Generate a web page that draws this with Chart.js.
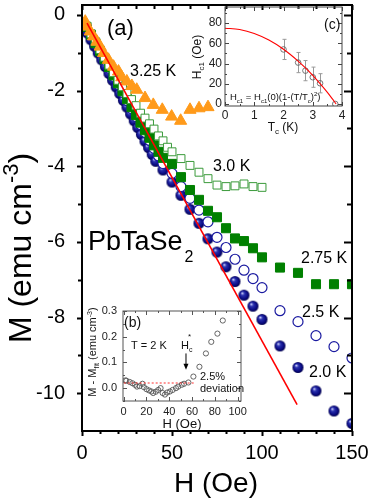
<!DOCTYPE html>
<html>
<head>
<meta charset="utf-8">
<script src="https://cdn.jsdelivr.net/npm/chart.js@4.4.0/dist/chart.umd.min.js"></script>
<style>
  html, body { margin: 0; padding: 0; background: #fff; }
  #wrap { position: relative; width: 374px; height: 503px; }
  #wrap canvas { position: absolute; left: 0; top: 0; }
</style>
</head>
<body>
<div id="wrap">
  <canvas id="mainChart" width="374" height="503"></canvas>
  <canvas id="insetB" width="374" height="503"></canvas>
  <canvas id="insetC" width="374" height="503"></canvas>
</div>
<script>
const FONT = "'Liberation Sans', Arial, sans-serif";

// ==============================
//  (a) M(H) curves
// ==============================
const xTicksA = [0, 50, 100, 150];
const yTicksA = [-10, -8, -6, -4, -2, 0];

const h20 = [1, 3, 5, 7, 9, 11, 13, 15, 17, 19, 21, 23, 25, 27, 29, 31, 33, 35, 37, 39, 41, 45, 50, 55, 60, 65, 70, 75, 80, 85, 90, 95, 100, 110, 120, 130, 140, 150];
const m20 = [-0.30, -0.48, -0.66, -0.83, -1.01, -1.19, -1.37, -1.55, -1.73, -1.91, -2.08, -2.26, -2.44, -2.62, -2.80, -2.98, -3.16, -3.34, -3.51, -3.69, -3.87, -4.10, -4.42, -4.77, -5.14, -5.51, -5.92, -6.27, -6.66, -7.05, -7.41, -7.70, -8.05, -8.75, -9.32, -9.94, -10.47, -10.80];

const h25 = [2.5, 5, 7.5, 10, 12.5, 15, 17.5, 20, 22.5, 25, 27.5, 30, 32.5, 35, 37.5, 40, 42.5, 45, 50, 55, 60, 65, 70, 75, 80, 85, 90, 95, 100, 110, 120, 130, 140, 150];
const m25 = [-0.33, -0.55, -0.77, -0.98, -1.20, -1.41, -1.63, -1.84, -2.05, -2.27, -2.48, -2.69, -2.90, -3.11, -3.32, -3.53, -3.73, -3.93, -4.19, -4.54, -4.85, -5.16, -5.47, -5.88, -6.15, -6.46, -6.75, -6.97, -7.21, -7.82, -8.11, -8.48, -8.77, -9.07];

const h275 = [2.5, 5, 7.5, 10, 12.5, 15, 17.5, 20, 22.5, 25, 27.5, 30, 32.5, 35, 37.5, 40, 42.5, 45, 50, 55, 60, 65, 70, 75, 80, 85, 90, 95, 100, 110, 120, 130, 140, 150];
const m275 = [-0.32, -0.53, -0.75, -0.96, -1.17, -1.38, -1.60, -1.81, -2.02, -2.23, -2.44, -2.65, -2.85, -3.05, -3.25, -3.45, -3.62, -3.78, -3.94, -4.29, -4.63, -4.89, -5.18, -5.35, -5.64, -5.91, -5.98, -6.17, -6.41, -6.68, -6.82, -7.12, -7.12, -7.12];

const h30 = [2.5, 5, 7.5, 10, 12.5, 15, 17.5, 20, 22.5, 25, 27.5, 30, 32.5, 35, 37.5, 40, 42.5, 45, 47.5, 50, 55, 60, 65, 70, 75, 80, 85, 90, 95, 100];
const m30 = [-0.30, -0.50, -0.71, -0.92, -1.12, -1.33, -1.53, -1.73, -1.90, -2.08, -2.24, -2.40, -2.60, -2.73, -2.88, -3.02, -3.20, -3.33, -3.50, -3.62, -3.80, -3.98, -4.16, -4.33, -4.50, -4.54, -4.52, -4.47, -4.54, -4.56];

const h325 = [1.8, 2.8, 4.6, 6.4, 8.3, 10.1, 12, 14.7, 17.5, 20.3, 22.1, 24.9, 27.7, 30.4, 35, 39.6, 44.6, 49.8, 54.8, 60, 65, 70];
const m325 = [-0.18, -0.31, -0.44, -0.57, -0.71, -0.84, -1.01, -1.19, -1.37, -1.50, -1.65, -1.76, -1.88, -1.98, -2.20, -2.38, -2.51, -2.69, -2.80, -2.51, -2.47, -2.44];

// linear Meissner fit
const fitH = [2.8, 119.5];
const fitM = [-0.22, -10.3];

// ==============================
//  (b) deviation from linear fit, T = 2 K
// ==============================
const xTicksB = [0, 20, 40, 60, 80, 100];
const yTicksB = [0, 0.1, 0.2, 0.3];
const hB = [1.5, 2.4, 5.3, 7.7, 10, 11.7, 14, 16.5, 17.7, 20, 22.3, 24.4, 25.9, 28.2, 30.3, 32.4, 34.2, 36.2, 38.2, 40.6, 43, 45.9, 47.9, 50.9, 53, 56.8, 61.2, 66.5, 72.2, 76.9, 82.3, 87];
const dB = [0.030, 0.029, 0.024, 0.019, 0.013, 0.006, 0.008, 0.017, 0.004, -0.004, -0.009, -0.013, -0.019, -0.014, -0.007, 0.000, -0.019, -0.025, -0.017, -0.013, -0.007, 0.000, 0.006, 0.013, 0.017, 0.022, 0.045, 0.083, 0.135, 0.180, 0.212, 0.263];
const devH = [0, 63];
const devLevel = [0.02, 0.02];
const arrowH = 54.7;
const arrowM = [0.135, 0.072];

// ==============================
//  (c) Hc1(T)
// ==============================
const xTicksC = [0, 1, 2, 3, 4];
const yTicksC = [0, 20, 40, 60, 80];
const tC = [2.0, 2.5, 2.75, 3.0, 3.25, 3.77];
const hcC = [54, 41, 33, 26.5, 20.5, 0];
const errC = [10, 10, 10, 10, 9.5, 0];
const fitT = [0, 0.5, 1, 1.5, 2, 2.5, 2.75, 3, 3.25, 3.5, 3.65, 3.8];
const fitHc = [75, 73.7, 69.8, 63.3, 54.2, 42.5, 35.7, 28.3, 20.1, 11.4, 5.8, 0];


Chart.defaults.font.family = FONT;
Chart.defaults.color = "#000";
Chart.defaults.animation = false;

const pts = (xs, ys) => xs.map((x, i) => ({ x, y: ys[i] }));
const range = (a, b, s) => { const r = []; for (let v = a; v <= b + 1e-9; v += s) r.push(+v.toFixed(4)); return r; };
const minorOf = (all, major) => all.filter(v => !major.some(m => Math.abs(m - v) < 1e-6));

// shaded ball marker for 2.0 K
function sphere(r) {
  const c = document.createElement("canvas");
  c.width = c.height = 2 * r + 2;
  const g = c.getContext("2d");
  const cx = r + 1, cy = r + 1;
  const grad = g.createRadialGradient(cx - r * 0.35, cy - r * 0.4, r * 0.05, cx, cy, r);
  grad.addColorStop(0, "#d8dcff");
  grad.addColorStop(0.3, "#2a32b0");
  grad.addColorStop(0.75, "#0a0a82");
  grad.addColorStop(1, "#00004a");
  g.fillStyle = grad;
  g.beginPath();
  g.arc(cx, cy, r, 0, Math.PI * 2);
  g.fill();
  return c;
}

// text with sub/superscripts, parts = [[text, kind]] kind: 0 normal, 1 sup, -1 sub
function rich(ctx, parts, x, y, size, align) {
  const fontFor = k => `${k ? Math.round(size * 0.68) : size}px ${FONT}`;
  let w = 0;
  parts.forEach(([t, k]) => { ctx.font = fontFor(k); w += ctx.measureText(t).width; });
  let cx = align === "center" ? x - w / 2 : align === "right" ? x - w : x;
  ctx.textAlign = "left";
  ctx.textBaseline = "alphabetic";
  parts.forEach(([t, k]) => {
    ctx.font = fontFor(k);
    const dy = k === 1 ? -size * 0.4 : k === -1 ? size * 0.28 : 0;
    ctx.fillText(t, cx, y + dy);
    cx += ctx.measureText(t).width;
  });
  return cx;
}

// box + ticks (len > 0 outward, < 0 inward)
function drawFrame(chart, o) {
  const { ctx, chartArea: a } = chart;
  const x = chart.scales.x, y = chart.scales.y;
  ctx.save();
  ctx.strokeStyle = o.color;
  ctx.lineWidth = o.lw;
  ctx.beginPath();
  const seg = (x1, y1, x2, y2) => { ctx.moveTo(x1, y1); ctx.lineTo(x2, y2); };
  [[o.xMajor, 0], [o.xMinor, 1]].forEach(([list, k]) => list.forEach(v => {
    const p = Math.round(x.getPixelForValue(v)) + 0.5;
    seg(p, a.bottom, p, a.bottom + o.bottom[k]);
    seg(p, a.top, p, a.top - o.top[k]);
  }));
  [[o.yMajor, 0], [o.yMinor, 1]].forEach(([list, k]) => list.forEach(v => {
    const p = Math.round(y.getPixelForValue(v)) + 0.5;
    seg(a.left, p, a.left - o.left[k], p);
    seg(a.right, p, a.right + o.right[k], p);
  }));
  ctx.stroke();
  ctx.strokeRect(a.left, a.top, a.right - a.left, a.bottom - a.top);
  ctx.restore();
}

const fixTicks = list => scale => { scale.ticks = list.map(v => ({ value: v })); };
// fixed axis thickness, no automatic label overhang padding
const fixSize = (prop, px) => s => {
  s[prop] = px;
  s.paddingTop = s.paddingBottom = s.paddingLeft = s.paddingRight = 0;
};

// ==============================
//  main chart
// ==============================
new Chart(document.getElementById("mainChart"), {
  type: "scatter",
  data: {
    datasets: [
      { label: "fit", data: pts(fitH, fitM), showLine: true, borderColor: "#ff0000", borderWidth: 1.6, pointRadius: 0 },
      { label: "3.25 K", data: pts(h325, m325), pointStyle: "triangle", pointRadius: 7, backgroundColor: "#ff9a1a", borderColor: "#ff9a1a", borderWidth: 1 },
      { label: "3.0 K", data: pts(h30, m30), pointStyle: "rect", pointRadius: 5.6, backgroundColor: "#ffffff", borderColor: "#3a9a3a", borderWidth: 1 },
      { label: "2.75 K", data: pts(h275, m275), pointStyle: "rect", pointRadius: 6.4, backgroundColor: "#008000", borderColor: "#008000", borderWidth: 1 },
      { label: "2.5 K", data: pts(h25, m25), pointStyle: "circle", pointRadius: 5, backgroundColor: "#ffffff", borderColor: "#1a1aa0", borderWidth: 1.2 },
      { label: "2.0 K", data: pts(h20, m20), pointStyle: sphere(5.5), pointRadius: 5.5 }
    ]
  },
  options: {
    responsive: false,
    devicePixelRatio: 1,
    layout: { autoPadding: false, padding: { left: 0, right: 22, top: 5, bottom: 0 } },
    plugins: { legend: { display: false }, tooltip: { enabled: false } },
    scales: {
      x: {
        type: "linear", min: 0, max: 150,
        afterBuildTicks: fixTicks(xTicksA),
        afterFit: fixSize("height", 72),
        grid: { display: false, drawTicks: false },
        border: { display: false },
        ticks: { font: { size: 20 }, padding: 10, maxRotation: 0 }
      },
      y: {
        type: "linear", min: -11, max: 0.26,
        afterBuildTicks: fixTicks(yTicksA),
        afterFit: fixSize("width", 82),
        grid: { display: false, drawTicks: false },
        border: { display: false },
        ticks: { font: { size: 20 }, padding: 17 }
      }
    }
  },
  plugins: [{
    id: "decorA",
    afterDraw(chart) {
      drawFrame(chart, {
        color: "#000", lw: 2,
        xMajor: xTicksA, xMinor: minorOf(range(0, 150, 10), xTicksA),
        yMajor: yTicksA, yMinor: [-9, -7, -5, -3, -1],
        bottom: [5, 3], top: [-5, -4], left: [5, 4], right: [-8, -5]
      });
      const ctx = chart.ctx;
      ctx.save();
      ctx.fillStyle = "#000";
      ctx.textBaseline = "middle";
      ctx.textAlign = "left";
      ctx.font = `22px ${FONT}`;
      ctx.fillText("(a)", 107, 29);
      ctx.font = `16px ${FONT}`;
      ctx.fillText("3.25 K", 130, 72);
      ctx.fillText("3.0 K", 213, 167);
      ctx.fillText("2.75 K", 301, 259);
      ctx.fillText("2.5 K", 302, 313);
      ctx.fillText("2.0 K", 309, 373);
      const endX = rich(ctx, [["PbTaSe", 0]], 88, 250, 27, "left");
      ctx.font = `16px ${FONT}`;
      ctx.textBaseline = "alphabetic";
      ctx.fillText("2", endX + 2, 262);
      rich(ctx, [["H (Oe)", 0]], 216, 492, 28, "center");
      ctx.translate(31, 248);
      ctx.rotate(-Math.PI / 2);
      rich(ctx, [["M (emu cm", 0], ["-3", 1], [")", 0]], 0, 0, 32, "center");
      ctx.restore();
    }
  }]
});

// ==============================
//  inset (b)
// ==============================
new Chart(document.getElementById("insetB"), {
  type: "scatter",
  data: {
    datasets: [
      { label: "2.5%", data: pts(devH, devLevel), showLine: true, borderColor: "#ff3030", borderWidth: 1, borderDash: [2, 2], pointRadius: 0 },
      { label: "T = 2 K", data: pts(hB, dB), pointStyle: "circle", pointRadius: 2.6, backgroundColor: "rgba(255,255,255,0)", borderColor: "#555", borderWidth: 0.9 }
    ]
  },
  options: {
    responsive: false,
    devicePixelRatio: 1,
    layout: { autoPadding: false, padding: { left: 83, right: 133, top: 311, bottom: 72 } },
    plugins: { legend: { display: false }, tooltip: { enabled: false } },
    scales: {
      x: {
        type: "linear", min: -0.6, max: 103,
        afterBuildTicks: fixTicks(xTicksB),
        afterFit: fixSize("height", 30),
        grid: { display: false, drawTicks: false },
        border: { display: false },
        ticks: { font: { size: 11 }, padding: 4, maxRotation: 0, color: "#222" }
      },
      y: {
        type: "linear", min: -0.05, max: 0.3,
        afterBuildTicks: fixTicks(yTicksB),
        afterFit: fixSize("width", 40),
        grid: { display: false, drawTicks: false },
        border: { display: false },
        ticks: { font: { size: 11 }, padding: 6, color: "#222", callback: v => v.toFixed(1) }
      }
    }
  },
  plugins: [{
    id: "decorB",
    afterDraw(chart) {
      drawFrame(chart, {
        color: "#555", lw: 1,
        xMajor: xTicksB, xMinor: minorOf(range(0, 100, 10), xTicksB),
        yMajor: yTicksB, yMinor: [-0.05, 0.05, 0.15, 0.25],
        bottom: [-4, -2], top: [-4, -2], left: [-4, -2], right: [-4, -2]
      });
      const { ctx, scales: { x, y } } = chart;
      ctx.save();
      // arrow at Hc*
      const ax = x.getPixelForValue(arrowH);
      const y0 = y.getPixelForValue(arrowM[0]), y1 = y.getPixelForValue(arrowM[1]);
      ctx.strokeStyle = "#000"; ctx.fillStyle = "#000"; ctx.lineWidth = 1;
      ctx.beginPath(); ctx.moveTo(ax, y0); ctx.lineTo(ax, y1 - 5); ctx.stroke();
      ctx.beginPath(); ctx.moveTo(ax - 2.5, y1 - 6); ctx.lineTo(ax + 2.5, y1 - 6); ctx.lineTo(ax, y1); ctx.closePath(); ctx.fill();
      ctx.fillStyle = "#111";
      ctx.textBaseline = "middle"; ctx.textAlign = "left";
      ctx.font = `14px ${FONT}`;
      ctx.fillText("(b)", 124, 323);
      ctx.font = `11px ${FONT}`;
      ctx.fillText("T = 2 K", 131, 346);
      ctx.fillText("2.5%", 200, 377);
      ctx.fillText("deviation", 200, 389);
      rich(ctx, [["H", 0], ["c", -1]], 181, 349, 11, "left");
      ctx.font = `8px ${FONT}`;
      ctx.fillText("*", 188, 339);
      rich(ctx, [["H (Oe)", 0]], 182, 428, 13, "center");
      ctx.translate(96, 352);
      ctx.rotate(-Math.PI / 2);
      rich(ctx, [["M - M", 0], ["fit", -1], [" (emu cm", 0], ["-3", 1], [")", 0]], 0, 0, 11, "center");
      ctx.restore();
    }
  }]
});

// ==============================
//  inset (c)
// ==============================
new Chart(document.getElementById("insetC"), {
  type: "scatter",
  data: {
    datasets: [
      { label: "fit", data: pts(fitT, fitHc), showLine: true, borderColor: "#ff0000", borderWidth: 1.1, pointRadius: 0, cubicInterpolationMode: "monotone" },
      { label: "Hc1", data: pts(tC, hcC), pointStyle: "circle", pointRadius: 2.8, backgroundColor: "rgba(255,255,255,0)", borderColor: "#666", borderWidth: 0.9 }
    ]
  },
  options: {
    responsive: false,
    devicePixelRatio: 1,
    layout: { autoPadding: false, padding: { left: 185, right: 32, top: 7, bottom: 367 } },
    plugins: { legend: { display: false }, tooltip: { enabled: false } },
    scales: {
      x: {
        type: "linear", min: 0, max: 4,
        afterBuildTicks: fixTicks(xTicksC),
        afterFit: fixSize("height", 30),
        grid: { display: false, drawTicks: false },
        border: { display: false },
        ticks: { font: { size: 12 }, padding: 2, maxRotation: 0, color: "#222" }
      },
      y: {
        type: "linear", min: -2, max: 96,
        afterBuildTicks: fixTicks(yTicksC),
        afterFit: fixSize("width", 40),
        grid: { display: false, drawTicks: false },
        border: { display: false },
        ticks: { font: { size: 12 }, padding: 3, color: "#222" }
      }
    }
  },
  plugins: [{
    id: "errorBarsC",
    beforeDatasetsDraw(chart) {
      const { ctx, scales: { x, y } } = chart;
      ctx.save();
      ctx.strokeStyle = "#999";
      ctx.lineWidth = 1;
      ctx.beginPath();
      tC.forEach((t, i) => {
        if (!errC[i]) return;
        const px = Math.round(x.getPixelForValue(t)) + 0.5;
        const ya = y.getPixelForValue(hcC[i] - errC[i]), yb = y.getPixelForValue(hcC[i] + errC[i]);
        ctx.moveTo(px, ya); ctx.lineTo(px, yb);
        ctx.moveTo(px - 2, ya); ctx.lineTo(px + 2, ya);
        ctx.moveTo(px - 2, yb); ctx.lineTo(px + 2, yb);
      });
      ctx.stroke();
      ctx.restore();
    },
    afterDraw(chart) {
      drawFrame(chart, {
        color: "#444", lw: 1,
        xMajor: xTicksC, xMinor: [0.5, 1.5, 2.5, 3.5],
        yMajor: yTicksC, yMinor: [10, 30, 50, 70, 90],
        bottom: [-4, -2], top: [-4, -2], left: [-4, -2], right: [-4, -2]
      });
      const ctx = chart.ctx;
      ctx.save();
      ctx.fillStyle = "#111";
      ctx.textBaseline = "middle"; ctx.textAlign = "left";
      ctx.font = `14px ${FONT}`;
      ctx.fillText("(c)", 324, 25);
      rich(ctx, [["H", 0], ["c1", -1], [" = H", 0], ["c1", -1], ["(0)(1-(T/T", 0], ["c", -1], [")", 0], ["2", 1], [")", 0]], 230, 100, 9.5, "left");
      rich(ctx, [["T", 0], ["c", -1], [" (K)", 0]], 283, 131, 12, "center");
      ctx.translate(201, 57);
      ctx.rotate(-Math.PI / 2);
      rich(ctx, [["H", 0], ["c1", -1], [" (Oe)", 0]], 0, 0, 12, "center");
      ctx.restore();
    }
  }]
});
</script>
</body>
</html>
